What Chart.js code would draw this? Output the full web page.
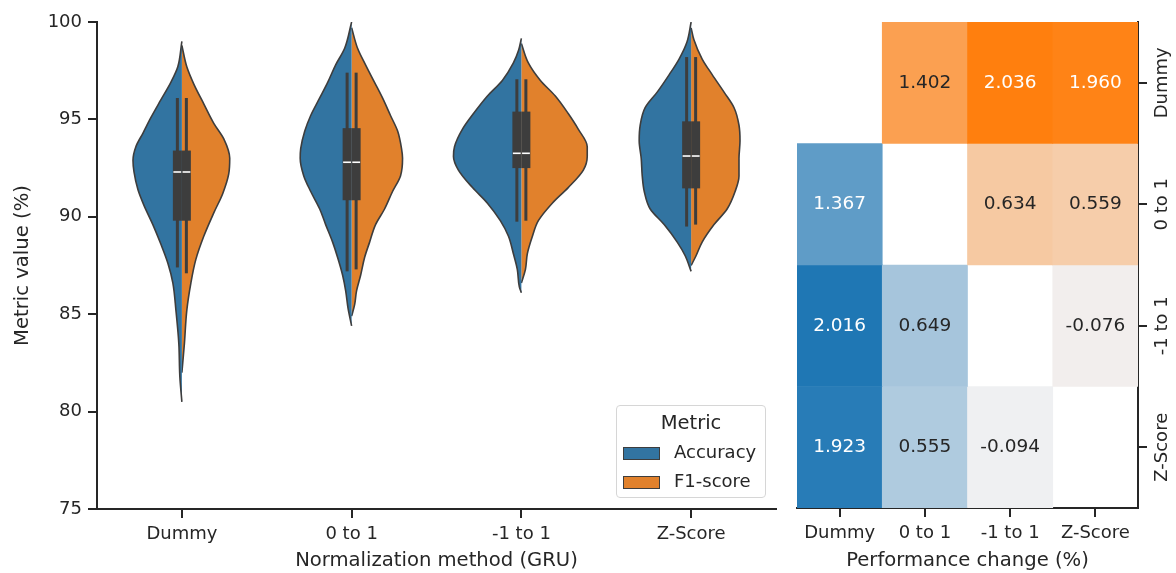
<!DOCTYPE html>
<html>
<head>
<meta charset="utf-8">
<script src="https://cdn.jsdelivr.net/npm/chart.js@4.4.1/dist/chart.umd.min.js"></script>
<style>
  body { margin: 0; background: #fff; font-family: "DejaVu Sans", sans-serif; }
  #wrap { position: relative; width: 1176px; height: 573px; }
  #violinBox { position: absolute; left: 0; top: 0; }
  #heatBox { position: absolute; left: 790px; top: 0; }
  #legend {
    position: absolute; left: 616px; top: 405px; width: 148px; height: 91px;
    border: 1px solid #d6d6d6; border-radius: 4px; background: rgba(255,255,255,0.85);
    color: #262626; font-size: 18px;
  }
  #legend .title { text-align: center; font-size: 19.5px; margin-top: 5px; }
  #legend .row { position: absolute; left: 6px; height: 20px; }
  #legend .patch { position: absolute; left: 0; top: 3px; width: 35px; height: 11px; border: 1.2px solid #3d3d3d; }
  #legend .lbl { position: absolute; left: 51px; top: -3px; white-space: nowrap; }
</style>
</head>
<body>
<div id="wrap">
  <div id="violinBox"><canvas id="violinChart" width="790" height="573"></canvas></div>
  <div id="heatBox"><canvas id="heatChart" width="386" height="573"></canvas></div>
  <div id="legend">
    <div class="title">Metric</div>
    <div class="row" style="top:38px"><div class="patch" style="background:#3274a1"></div><div class="lbl">Accuracy</div></div>
    <div class="row" style="top:67px"><div class="patch" style="background:#e1812c"></div><div class="lbl">F1-score</div></div>
  </div>
</div>
<script>
// ===== DATA =====
const categories = ["Dummy", "0 to 1", "-1 to 1", "Z-Score"];
const metricNames = ["Accuracy", "F1-score"];

// violin outlines: [metric value, half width as share of one category slot]
const accDummy = [[99.0,0],[97.7,.024],[96.9,.065],[96.0,.124],[95.1,.182],[94.3,.229],[93.6,.271],[92.9,.288],[92.3,.282],[91.4,.259],[90.6,.224],[89.6,.171],[88.6,.124],[87.6,.082],[86.6,.053],[85.2,.035],[83.5,.018],[81.8,.012],[80.5,0]];
const f1Dummy = [[98.8,0],[97.7,.029],[96.8,.071],[95.8,.129],[94.8,.188],[94.0,.247],[93.0,.282],[92.2,.276],[91.2,.241],[90.2,.188],[89.0,.129],[87.8,.082],[86.6,.053],[85.2,.029],[83.5,.015],[82.0,0]];
const accZeroOne = [[100,0],[98.65,.041],[97.8,.094],[96.9,.141],[96.1,.188],[95.2,.241],[94.4,.276],[93.5,.3],[93.0,.303],[92.1,.282],[91.3,.241],[90.4,.188],[89.6,.153],[88.7,.112],[87.9,.082],[87.0,.053],[86.2,.035],[85.3,.021],[84.4,0]];
const f1ZeroOne = [[99.7,0],[98.65,.035],[97.8,.082],[96.9,.135],[96.1,.182],[95.2,.229],[94.4,.271],[93.5,.294],[93.0,.3],[92.1,.288],[91.3,.241],[90.4,.194],[89.6,.141],[88.7,.106],[87.9,.076],[87.0,.053],[86.2,.029],[85.5,.018],[84.9,0]];
const accNegOne = [[99.16,0],[98.56,.016],[97.9,.047],[97.0,.112],[96.2,.2],[95.3,.282],[94.5,.347],[93.6,.394],[93.1,.4],[92.4,.371],[91.5,.288],[90.7,.2],[89.8,.124],[89.0,.076],[88.1,.047],[87.3,.024],[86.4,.012],[86.1,0]];
const f1NegOne = [[98.9,0],[97.9,.041],[97.0,.112],[96.2,.2],[95.3,.276],[94.5,.335],[93.6,.388],[93.1,.388],[92.4,.365],[91.5,.276],[90.7,.182],[89.8,.1],[89.0,.065],[88.1,.035],[87.3,.024],[86.6,0]];
const accZScore = [[100,0],[98.99,.024],[98.1,.071],[97.3,.129],[96.4,.2],[95.6,.271],[94.7,.3],[93.9,.306],[93.0,.294],[92.1,.288],[91.3,.276],[90.4,.241],[89.6,.159],[88.7,.082],[88.0,.035],[87.2,0]];
const f1ZScore = [[99.7,0],[99.1,.016],[98.1,.065],[97.3,.124],[96.4,.194],[95.6,.253],[94.7,.282],[93.9,.288],[93.0,.282],[92.1,.282],[91.3,.259],[90.4,.212],[89.6,.135],[88.7,.065],[88.0,.029],[87.5,0]];

const accOutlines = [accDummy, accZeroOne, accNegOne, accZScore];
const f1Outlines = [f1Dummy, f1ZeroOne, f1NegOne, f1ZScore];

// inner boxes: [low whisker, q1, median, q3, high whisker]
const accBoxes = [[87.4,89.8,92.3,93.4,96.1],[87.2,90.85,92.8,94.55,97.4],[89.75,92.5,93.26,95.4,97.06],[89.5,91.46,93.12,94.9,98.2]];
const f1Boxes = [[87.1,89.8,92.3,93.4,96.1],[87.3,90.85,92.8,94.55,97.4],[89.8,92.5,93.26,95.4,97.06],[89.6,91.46,93.12,94.9,98.2]];

// performance change matrix, rows top to bottom
const dummyRow = [null, 1.402, 2.036, 1.960];
const zeroOneRow = [1.367, null, 0.634, 0.559];
const negOneRow = [2.016, 0.649, null, -0.076];
const zScoreRow = [1.923, 0.555, -0.094, null];
const changeRows = [dummyRow, zeroOneRow, negOneRow, zScoreRow];

// ===== STYLE =====
const TEXT = "#262626";
const EDGE = "#3d3d3d";
const fillColors = ["#3274a1", "#e1812c"];
const BOX_OFF = 0.0265;   // half-box centre offset (x units)
const MED_IN = 0.004;
const MED_OUT = 0.05;

// ===== VIOLIN DATASETS =====
const violinSets = [];
[accOutlines, f1Outlines].forEach((outlines, m) => {
    const side = m === 0 ? -1 : 1;
    outlines.forEach((pts, i) => {
        violinSets.push({
            data: pts.map((p) => ({ x: i + side * p[1], y: p[0] })),
            indexAxis: "y",
            showLine: true,
            halfFill: fillColors[m],
            borderColor: EDGE,
            borderWidth: 1.6,
            cubicInterpolationMode: "monotone",
            pointRadius: 0,
            order: 5,
        });
    });
});

const boxSets = [];
[accBoxes, f1Boxes].forEach((boxes, m) => {
    const side = m === 0 ? -1 : 1;
    boxes.forEach((b, i) => {
        const bx = i + side * BOX_OFF;
        boxSets.push({
            data: [{ x: bx, y: b[0] }, { x: bx, y: b[4] }],
            showLine: true, borderColor: EDGE, borderWidth: 3, pointRadius: 0, order: 3,
        });
        boxSets.push({
            data: [{ x: bx, y: b[1] }, { x: bx, y: b[3] }],
            showLine: true, borderColor: EDGE, borderWidth: 9, pointRadius: 0, order: 2,
        });
        boxSets.push({
            data: [{ x: i + side * MED_IN, y: b[2] }, { x: i + side * MED_OUT, y: b[2] }],
            showLine: true, borderColor: "#ffffff", borderWidth: 1.6, pointRadius: 0, order: 1,
        });
    });
});

// fill the half-violin under its outline
const violinFill = {
    id: "violinFill",
    beforeDatasetDraw(chart, args) {
        const ds = chart.data.datasets[args.index];
        if (!ds.halfFill) return;
        const line = args.meta.dataset;
        const ctx = chart.ctx;
        ctx.save();
        ctx.beginPath();
        if (line && typeof line.path === "function") {
            line.updateControlPoints(chart.chartArea, "y");
            line.path(ctx);
        } else {
            args.meta.data.forEach((p, k) => (k ? ctx.lineTo(p.x, p.y) : ctx.moveTo(p.x, p.y)));
        }
        ctx.closePath();
        ctx.fillStyle = ds.halfFill;
        ctx.fill();
        ctx.restore();
    },
};

const tickFont = { family: "DejaVu Sans", size: 18 };
const titleFont = { family: "DejaVu Sans", size: 19.6 };

new Chart(document.getElementById("violinChart"), {
    type: "scatter",
    data: { datasets: [...violinSets, ...boxSets] },
    options: {
        responsive: false,
        animation: false,
        layout: { padding: { left: 0, top: 22, right: 14, bottom: 0 } },
        plugins: { legend: { display: false }, tooltip: { enabled: false } },
        scales: {
            x: {
                type: "linear", min: -0.5, max: 3.5,
                afterBuildTicks: (axis) => { axis.ticks = categories.map((c, i) => ({ value: i })); },
                afterFit: (axis) => { axis.height = 64; },
                ticks: { callback: (v) => categories[v], color: TEXT, font: tickFont, padding: 6, autoSkip: false, maxRotation: 0 },
                grid: { drawOnChartArea: false, tickLength: 9, color: TEXT, lineWidth: 2 },
                border: { color: TEXT, width: 2 },
                title: { display: true, text: "Normalization method (GRU)", color: TEXT, font: titleFont, padding: { top: 0, bottom: 0 } },
            },
            y: {
                min: 75, max: 100,
                afterFit: (axis) => { axis.width = 97; },
                ticks: { stepSize: 5, color: TEXT, font: tickFont, padding: 6 },
                grid: { drawOnChartArea: false, tickLength: 9, color: TEXT, lineWidth: 2 },
                border: { color: TEXT, width: 2 },
                title: { display: true, text: "Metric value (%)", color: TEXT, font: titleFont, padding: { top: 11, bottom: 0 } },
            },
        },
    },
    plugins: [violinFill],
});

// ===== HEATMAP =====
function cellColor(r, c) {
    const v = changeRows[r][c];
    if (v === null) return null;
    const lower = c < r;
    const vals = [];
    changeRows.forEach((row, rr) => row.forEach((x, cc) => {
        if (x !== null && (cc < rr) === lower) vals.push(x);
    }));
    const lo = Math.min(...vals), hi = Math.max(...vals);
    const t = (v - lo) / (hi - lo);
    const light = lower ? [239, 240, 242] : [242, 238, 237];
    const dark = lower ? [31, 119, 180] : [255, 127, 14];
    return light.map((a, k) => Math.round(a + (dark[k] - a) * t));
}

function luminance(rgb) {
    const lin = rgb.map((c) => {
        c /= 255;
        return c <= 0.03928 ? c / 12.92 : Math.pow((c + 0.055) / 1.055, 2.4);
    });
    return 0.2126 * lin[0] + 0.7152 * lin[1] + 0.0722 * lin[2];
}

const heatSets = changeRows.map((row, r) => ({
    data: row.map(() => 1),
    backgroundColor: row.map((v, c) => {
        const col = cellColor(r, c);
        return col ? `rgb(${col.join(",")})` : "rgba(0,0,0,0)";
    }),
    borderWidth: 0,
    barPercentage: 1,
    categoryPercentage: 1,
}));

const heatLabels = {
    id: "heatLabels",
    afterDatasetsDraw(chart) {
        const ctx = chart.ctx;
        ctx.save();
        ctx.font = "18.5px 'DejaVu Sans'";
        ctx.textAlign = "center";
        ctx.textBaseline = "middle";
        changeRows.forEach((row, r) => {
            const meta = chart.getDatasetMeta(r);
            row.forEach((v, c) => {
                if (v === null) return;
                const el = meta.data[c];
                const col = cellColor(r, c);
                ctx.fillStyle = luminance(col) > 0.408 ? TEXT : "#ffffff";
                ctx.fillText(v.toFixed(3), el.x, (el.y + el.base) / 2);
            });
        });
        // row names on the right axis, rotated
        const ys = chart.scales.y;
        ctx.font = "18px 'DejaVu Sans'";
        ctx.fillStyle = TEXT;
        categories.forEach((name, r) => {
            ctx.save();
            ctx.translate(ys.left + 24, ys.getPixelForValue(r + 0.5));
            ctx.rotate(-Math.PI / 2);
            ctx.fillText(name, 0, 0);
            ctx.restore();
        });
        ctx.restore();
    },
};

new Chart(document.getElementById("heatChart"), {
    type: "bar",
    data: { labels: categories, datasets: heatSets },
    options: {
        responsive: false,
        animation: false,
        layout: { padding: { left: 7, top: 22, right: 0, bottom: 0 } },
        plugins: { legend: { display: false }, tooltip: { enabled: false } },
        scales: {
            x: {
                stacked: true,
                afterFit: (axis) => { axis.height = 65; },
                ticks: { color: TEXT, font: tickFont, padding: 6, autoSkip: false, maxRotation: 0 },
                grid: { offset: false, drawOnChartArea: false, tickLength: 9, color: TEXT, lineWidth: 2 },
                border: { color: TEXT, width: 2 },
                title: { display: true, text: "Performance change (%)", color: TEXT, font: titleFont, padding: { top: 0, bottom: 0 } },
            },
            y: {
                type: "linear", position: "right", stacked: true, reverse: true, min: 0, max: 4,
                afterBuildTicks: (axis) => { axis.ticks = categories.map((c, i) => ({ value: i + 0.5 })); },
                afterFit: (axis) => { axis.width = 38; },
                ticks: { display: false },
                grid: { drawOnChartArea: false, tickLength: 9, color: TEXT, lineWidth: 2 },
                border: { color: TEXT, width: 2 },
            },
        },
    },
    plugins: [heatLabels],
});
</script>
</body>
</html>
